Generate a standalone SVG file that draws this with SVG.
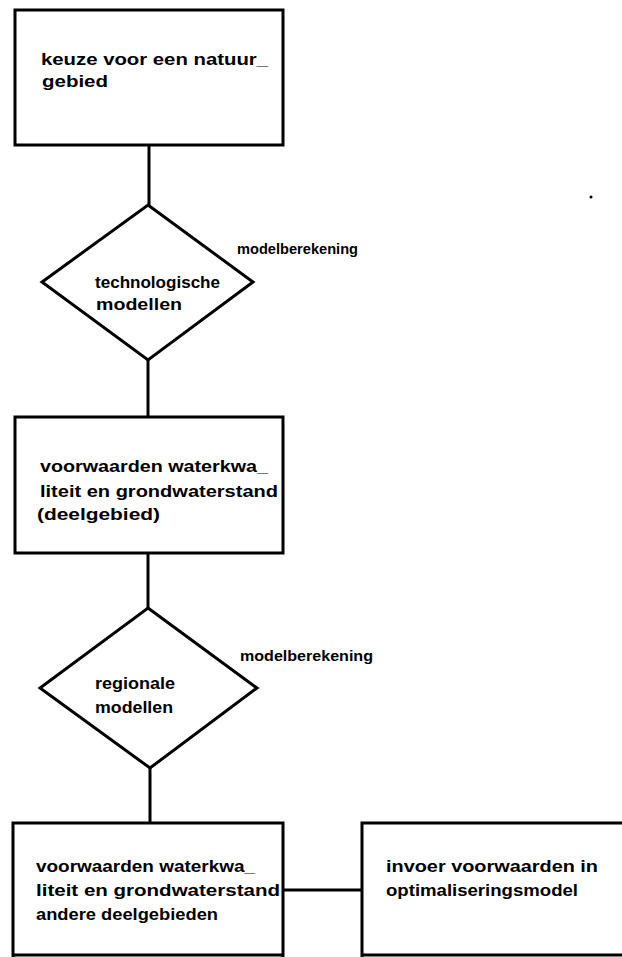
<svg xmlns="http://www.w3.org/2000/svg" width="622" height="957" viewBox="0 0 622 957">
<style>
.shape{fill:none;stroke:#000;stroke-width:3;stroke-linejoin:miter}
.conn{fill:none;stroke:#000;stroke-width:3}
text{font-family:"Liberation Sans","DejaVu Sans",sans-serif;font-size:16px;font-weight:bold;fill:#000}
.lbl{font-size:15px}
</style>
<rect width="622" height="957" fill="#fff"/>
<g id="connectors">
<line class="conn" x1="149" y1="145" x2="149" y2="205"/>
<line class="conn" x1="148" y1="360" x2="148" y2="417"/>
<line class="conn" x1="148" y1="553" x2="148" y2="608"/>
<line class="conn" x1="150" y1="768" x2="150" y2="823"/>
<line class="conn" x1="283" y1="890" x2="362" y2="890"/>
</g>
<g id="box1">
<rect class="shape" x="15" y="10" width="268" height="135"/>
<text x="41" y="65" textLength="227" lengthAdjust="spacingAndGlyphs">keuze voor een natuur_</text>
<text x="42" y="87" textLength="66" lengthAdjust="spacingAndGlyphs">gebied</text>
</g>
<g id="diamond1">
<polygon class="shape" points="148,205 253,282 148,360 42,282"/>
<text x="95" y="288" textLength="125" lengthAdjust="spacingAndGlyphs">technologische</text>
<text x="96" y="310" textLength="86" lengthAdjust="spacingAndGlyphs">modellen</text>
</g>
<g id="label1">
<text class="lbl" x="237" y="254" textLength="121" lengthAdjust="spacingAndGlyphs">modelberekening</text>
</g>
<g id="box2">
<rect class="shape" x="15" y="417" width="268" height="136"/>
<text x="40" y="472" textLength="228" lengthAdjust="spacingAndGlyphs">voorwaarden waterkwa_</text>
<text x="40" y="497" textLength="238" lengthAdjust="spacingAndGlyphs">liteit en grondwaterstand</text>
<text x="37" y="520" textLength="123" lengthAdjust="spacingAndGlyphs">(deelgebied)</text>
</g>
<g id="diamond2">
<polygon class="shape" points="148,608 257,688 150,768 40,688"/>
<text x="95" y="689" textLength="80" lengthAdjust="spacingAndGlyphs">regionale</text>
<text x="95" y="713" textLength="78" lengthAdjust="spacingAndGlyphs">modellen</text>
</g>
<g id="label2">
<text class="lbl" x="240" y="661" textLength="133" lengthAdjust="spacingAndGlyphs">modelberekening</text>
</g>
<g id="box3">
<path class="shape" d="M13,960 V823 H283 V960"/>
<line class="conn" x1="13" y1="955" x2="283" y2="955"/>
<text x="36" y="872" textLength="219" lengthAdjust="spacingAndGlyphs">voorwaarden waterkwa_</text>
<text x="36" y="896" textLength="244" lengthAdjust="spacingAndGlyphs">liteit en grondwaterstand</text>
<text x="36" y="920" textLength="182" lengthAdjust="spacingAndGlyphs">andere deelgebieden</text>
</g>
<g id="box4">
<path class="shape" d="M362,960 V823 H625"/>
<line class="conn" x1="362" y1="955" x2="625" y2="955"/>
<text x="386" y="872" textLength="212" lengthAdjust="spacingAndGlyphs">invoer voorwaarden in</text>
<text x="386" y="896" textLength="192" lengthAdjust="spacingAndGlyphs">optimaliseringsmodel</text>
</g>
<circle cx="591" cy="197" r="1.5" fill="#000"/>
</svg>
